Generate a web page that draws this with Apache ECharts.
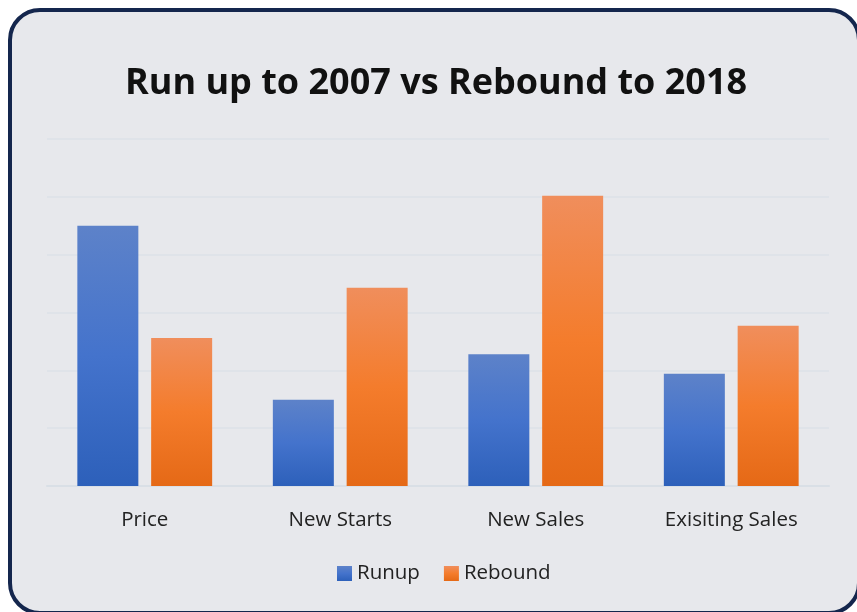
<!DOCTYPE html>
<html>
<head>
<meta charset="utf-8">
<script src="https://cdn.jsdelivr.net/npm/echarts@6/dist/echarts.min.js"></script>
<style>
  html, body { margin: 0; padding: 0; background: #ffffff; overflow: hidden; }
  #frame {
    position: absolute; left: 8px; top: 8px; width: 853px; height: 607px;
    box-sizing: border-box; border: 4px solid #14264d; border-radius: 32px;
    background: #e7e8ec;
  }
  #chart { position: absolute; left: 0; top: 0; width: 857px; height: 612px; }
</style>
</head>
<body>
<div id="frame"></div>
<div id="chart"></div>
<script>
// dados
const categorias = ['Price', 'New Starts', 'New Sales', 'Exisiting Sales'];
const runup = [4.5, 1.49, 2.28, 1.94];
const rebound = [2.56, 3.43, 5.02, 2.77];

const grafico = echarts.init(document.getElementById('chart'));

function gradiente(topo, meio, base) {
    return new echarts.graphic.LinearGradient(0, 0, 0, 1, [
        { offset: 0, color: topo },
        { offset: 0.5, color: meio },
        { offset: 1, color: base }
    ]);
}

const option = {
    backgroundColor: 'transparent',
    animation: false,
    textStyle: { fontFamily: 'Open Sans' },
    title: {
        text: 'Run up to 2007 vs Rebound to 2018',
        left: 125,
        top: 66,
        padding: 0,
        textStyle: { fontSize: 36, fontWeight: 'bold', color: '#111111', fontFamily: 'Open Sans' }
    },
    legend: {
        data: ['Runup', 'Rebound'],
        left: 332,
        top: 558,
        itemWidth: 15,
        itemHeight: 15,
        itemGap: 24,
        icon: 'rect',
        textStyle: { fontSize: 20.5, color: '#222222' }
    },
    grid: { left: 47, right: 28, top: 139, bottom: 126 },
    xAxis: {
        type: 'category',
        data: categorias,
        axisTick: { show: false },
        axisLine: { show: true, lineStyle: { color: '#d9dfe6', width: 2 } },
        axisLabel: { fontSize: 20.5, color: '#222222', margin: 24 }
    },
    yAxis: {
        type: 'value',
        min: 0,
        max: 6,
        interval: 1,
        axisLabel: { show: false },
        axisLine: { show: false },
        axisTick: { show: false },
        splitLine: { lineStyle: { color: '#dde2e8', width: 1.5 } }
    },
    series: [
        {
            name: 'Runup', type: 'bar', data: runup,
            barWidth: 61, barGap: '21%',
            itemStyle: { color: gradiente('#5d82c9', '#4473cc', '#2d60ba') }
        },
        {
            name: 'Rebound', type: 'bar', data: rebound,
            barWidth: 61,
            itemStyle: { color: gradiente('#f08e5c', '#f47c2c', '#e56916') }
        }
    ]
};

grafico.setOption(option);
</script>
</body>
</html>
